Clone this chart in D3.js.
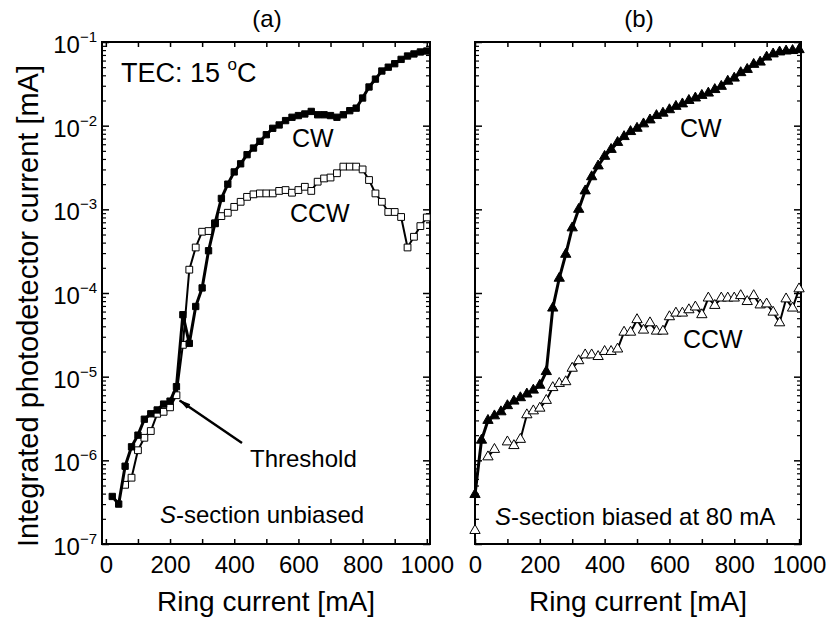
<!DOCTYPE html>
<html>
<head>
<meta charset="utf-8">
<script src="https://cdn.jsdelivr.net/npm/d3@7"></script>
<style>
  body { margin: 0; background: #fff; }
  svg { font-family: "Liberation Sans", Arial, sans-serif; }
</style>
</head>
<body>
<svg id="chart" width="834" height="621"></svg>
<script>
// ---- data (ring current in mA, photocurrent in mA) ----
var cwA_x = [20, 40, 60, 80, 100, 120, 140, 160, 180, 200, 220, 240, 260, 280, 300, 320, 340, 360, 380, 400,
             420, 440, 460, 480, 500, 520, 540, 560, 580, 600, 620, 640, 660, 680, 700, 720, 740, 760, 780, 800,
             820, 840, 860, 880, 900, 920, 940, 960, 980, 1000];
var cwA_y = [3.7e-7, 3.0e-7, 8.5e-7, 1.45e-6, 2.0e-6, 3.1e-6, 3.6e-6, 4.0e-6, 4.7e-6, 5.1e-6,
             7.6e-6, 5.5e-5, 2.5e-5, 6.9e-5, 1.15e-4, 3.2e-4, 6.8e-4, 1.35e-3, 2.0e-3, 2.8e-3,
             3.5e-3, 4.5e-3, 5.4e-3, 6.5e-3, 7.8e-3, 9.3e-3, 1.02e-2, 1.15e-2, 1.26e-2, 1.32e-2,
             1.38e-2, 1.48e-2, 1.35e-2, 1.35e-2, 1.32e-2, 1.26e-2, 1.35e-2, 1.51e-2, 1.62e-2, 2.14e-2,
             2.9e-2, 3.6e-2, 4.5e-2, 5.0e-2, 5.5e-2, 6.2e-2, 6.8e-2, 7.2e-2, 7.6e-2, 7.8e-2];

var ccwA_x = [60, 80, 100, 120, 140, 160, 180, 200, 220, 240, 260, 280, 300, 320, 340, 360, 380, 400,
              420, 440, 460, 480, 500, 520, 540, 560, 580, 600, 620, 640, 660, 680, 700, 720, 740, 760, 780, 800,
              820, 840, 860, 880, 900, 920, 940, 960, 980, 1000];
var ccwA_y = [5.1e-7, 6.2e-7, 1.32e-6, 1.86e-6, 2.24e-6, 3.6e-6, 3.8e-6, 4.3e-6, 6.0e-6, 2.4e-5,
              1.9e-4, 3.5e-4, 5.4e-4, 5.5e-4, 6.8e-4, 8.3e-4, 9.1e-4, 1.07e-3,
              1.23e-3, 1.41e-3, 1.51e-3, 1.55e-3, 1.55e-3, 1.55e-3, 1.66e-3, 1.70e-3, 1.58e-3, 1.70e-3,
              1.86e-3, 1.66e-3, 2.14e-3, 2.34e-3, 2.4e-3, 2.7e-3, 3.24e-3, 3.24e-3, 3.24e-3, 3.0e-3,
              2.24e-3, 1.55e-3, 1.23e-3, 9.3e-4, 9.3e-4, 8.1e-4, 3.5e-4, 4.7e-4, 6.3e-4, 8.0e-4];

var cwB_x = [0, 20, 40, 60, 80, 100, 120, 140, 160, 180, 200, 220, 240, 260, 280, 300, 320, 340, 360, 380, 400,
             420, 440, 460, 480, 500, 520, 540, 560, 580, 600, 620, 640, 660, 680, 700, 720, 740, 760, 780, 800,
             820, 840, 860, 880, 900, 920, 940, 960, 980, 1000];
var cwB_y = [3.9e-7, 1.74e-6, 3.0e-6, 3.4e-6, 3.8e-6, 4.5e-6, 5.1e-6, 5.6e-6, 6.2e-6, 6.9e-6, 7.9e-6,
             1.15e-5, 6.6e-5, 1.5e-4, 2.9e-4, 6.0e-4, 1.0e-3, 1.66e-3, 2.45e-3, 3.3e-3, 4.3e-3,
             5.2e-3, 6.3e-3, 7.4e-3, 8.5e-3, 9.3e-3, 1.05e-2, 1.17e-2, 1.32e-2, 1.41e-2, 1.55e-2,
             1.70e-2, 1.82e-2, 2.0e-2, 2.14e-2, 2.3e-2, 2.45e-2, 2.7e-2, 2.95e-2, 3.4e-2, 3.7e-2,
             4.3e-2, 4.7e-2, 5.4e-2, 5.75e-2, 6.6e-2, 7.2e-2, 7.6e-2, 7.8e-2, 7.9e-2, 8.1e-2];

// null = no measurement (gap in the trace)
var ccwB_x = [0, 20, 40, 60, 80, 100, 120, 140, 160, 180, 200, 220, 240, 260, 280, 300, 320, 340, 360, 380, 400,
              420, 440, 460, 480, 500, 520, 540, 560, 580, 600, 620, 640, 660, 680, 700, 720, 740, 760, 780, 800,
              820, 840, 860, 880, 900, 920, 940, 960, 980, 1000];
var ccwB_y = [1.45e-7, null, 1.1e-6, 1.35e-6, null, 1.66e-6, 1.5e-6, 1.78e-6, 3.5e-6, 3.9e-6, 4.2e-6,
              5.2e-6, 7.4e-6, 8.3e-6, 8.7e-6, 1.26e-5, 1.55e-5, 1.82e-5, 1.82e-5, 1.74e-5, 2.0e-5,
              2.0e-5, 2.14e-5, 3.4e-5, 3.4e-5, 4.8e-5, 3.6e-5, 4.4e-5, 3.5e-5, 3.5e-5, 5.2e-5,
              5.75e-5, 5.75e-5, 6.3e-5, 6.8e-5, 5.5e-5, 8.7e-5, 7.1e-5, 8.7e-5, 8.7e-5, 8.7e-5,
              9.3e-5, 7.9e-5, 9.3e-5, 7.2e-5, 7.4e-5, 5.9e-5, 4.4e-5, 8.5e-5, 6.6e-5, 1.12e-4];

var xTicks = [0, 100, 200, 300, 400, 500, 600, 700, 800, 900, 1000];
var decades = [-7, -6, -5, -4, -3, -2, -1];

var svg = d3.select("#chart");
var yTop = 42, yBottom = 544;

var zip = function (xs, ys) {
    return xs.map(function (d, i) { return { x: d, y: ys[i] }; });
};

var drawPanel = function (opts) {
    var x = d3.scaleLinear().domain(opts.domain).range([opts.left, opts.right]);
    var y = d3.scaleLog().domain([1e-7, 1e-1]).range([yBottom, yTop]);
    var g = svg.append("g");

    var minor = y.ticks().filter(function (d) {
        return Math.abs(Math.log10(d) - Math.round(Math.log10(d))) > 1e-6;
    });
    var major = decades.map(function (e) { return Math.pow(10, e); });

    // x ticks, bottom with labels, top without
    var bottom = g.append("g").attr("transform", "translate(0," + yBottom + ")")
        .call(d3.axisBottom(x).tickValues(xTicks).tickSize(-5).tickPadding(12)
            .tickFormat(function (d) { return d % 200 === 0 ? d : ""; }));
    bottom.select(".domain").remove();
    bottom.selectAll("text").attr("font-size", 24).attr("font-family", "Liberation Sans, Arial, sans-serif").attr("fill", "#000");
    bottom.selectAll("line").attr("stroke-width", 1.5);

    var top = g.append("g").attr("transform", "translate(0," + yTop + ")")
        .call(d3.axisTop(x).tickValues(xTicks).tickSize(-5).tickFormat(""));
    top.select(".domain").remove();
    top.selectAll("line").attr("stroke-width", 1.5);

    // y ticks on both sides, inward
    [[d3.axisLeft, opts.left], [d3.axisRight, opts.right]].forEach(function (s) {
        var gMaj = g.append("g").attr("transform", "translate(" + s[1] + ",0)")
            .call(s[0](y).tickValues(major).tickSize(-7).tickFormat(""));
        gMaj.select(".domain").remove();
        gMaj.selectAll("line").attr("stroke-width", 1.5);
        var gMin = g.append("g").attr("transform", "translate(" + s[1] + ",0)")
            .call(s[0](y).tickValues(minor).tickSize(-4).tickFormat(""));
        gMin.select(".domain").remove();
        gMin.selectAll("line").attr("stroke-width", 1.2);
    });

    // frame
    g.append("rect")
        .attr("x", opts.left).attr("y", yTop)
        .attr("width", opts.right - opts.left).attr("height", yBottom - yTop)
        .attr("fill", "none").attr("stroke", "#000").attr("stroke-width", 2);

    // curves
    var line = d3.line()
        .defined(function (d) { return d.y !== null; })
        .x(function (d) { return x(d.x); })
        .y(function (d) { return y(d.y); });

    opts.series.forEach(function (s) {
        var data = zip(s.xs, s.ys);
        g.append("path").datum(data)
            .attr("d", line)
            .attr("fill", "none").attr("stroke", "#000")
            .attr("stroke-width", s.lw).attr("stroke-linejoin", "round");
        g.selectAll(null).data(data.filter(function (d) { return d.y !== null; }))
            .enter().append("path")
            .attr("transform", function (d) { return "translate(" + x(d.x) + "," + y(d.y) + ")"; })
            .attr("d", d3.symbol().type(s.shape).size(s.size))
            .attr("fill", s.fill).attr("stroke", "#000").attr("stroke-width", 1);
    });

    // x axis title and panel tag
    g.append("text").attr("x", (opts.left + opts.right) / 2).attr("y", 611)
        .attr("text-anchor", "middle").attr("font-size", 28).text("Ring current [mA]");
    g.append("text").attr("x", (opts.left + opts.right) / 2 + 1).attr("y", 27)
        .attr("text-anchor", "middle").attr("font-size", 24).text(opts.tag);

    return { x: x, y: y, g: g };
};

var pa = drawPanel({
    left: 102, right: 430, domain: [-12, 1010], tag: "(a)",
    series: [
        { xs: ccwA_x, ys: ccwA_y, shape: d3.symbolSquare, size: 46, fill: "#fff", lw: 2 },
        { xs: cwA_x, ys: cwA_y, shape: d3.symbolSquare, size: 40, fill: "#000", lw: 3 }
    ]
});

var pb = drawPanel({
    left: 475, right: 801, domain: [0, 1006], tag: "(b)",
    series: [
        { xs: ccwB_x, ys: ccwB_y, shape: d3.symbolTriangle, size: 46, fill: "#fff", lw: 2 },
        { xs: cwB_x, ys: cwB_y, shape: d3.symbolTriangle, size: 46, fill: "#000", lw: 3 }
    ]
});

// y tick labels (panel a only)
decades.forEach(function (e) {
    var t = svg.append("text")
        .attr("x", 97).attr("y", pa.y(Math.pow(10, e)) + 11)
        .attr("text-anchor", "end").attr("font-size", 24);
    t.append("tspan").text("10");
    t.append("tspan").attr("font-size", 15).attr("dy", -11).text("\u2212" + (-e));
});

// y axis title
svg.append("text")
    .attr("transform", "translate(38,306) rotate(-90)")
    .attr("text-anchor", "middle").attr("font-size", 29)
    .text("Integrated photodetector current [mA]");

// annotations panel a
var tec = pa.g.append("text").attr("x", 121).attr("y", 82).attr("font-size", 27);
tec.append("tspan").text("TEC: 15 ");
tec.append("tspan").attr("font-size", 17).attr("dy", -12).text("o");
tec.append("tspan").attr("dy", 12).text("C");

pa.g.append("text").attr("x", 292).attr("y", 147).attr("font-size", 25).text("CW");
pa.g.append("text").attr("x", 290).attr("y", 222).attr("font-size", 25).text("CCW");
pa.g.append("text").attr("x", 250).attr("y", 467).attr("font-size", 24).text("Threshold");

var sa = pa.g.append("text").attr("x", 160).attr("y", 523).attr("font-size", 24);
sa.append("tspan").attr("font-style", "italic").text("S");
sa.append("tspan").text("-section unbiased");

// threshold arrow
svg.append("defs").append("marker")
    .attr("id", "arrow").attr("viewBox", "0 0 12 8").attr("refX", 11).attr("refY", 4)
    .attr("markerWidth", 12).attr("markerHeight", 8).attr("markerUnits", "userSpaceOnUse")
    .attr("orient", "auto")
    .append("path").attr("d", "M0,1 L12,4 L0,7 Z").attr("fill", "#000");
pa.g.append("line")
    .attr("x1", 242).attr("y1", 443)
    .attr("x2", pa.x(230)).attr("y2", pa.y(5.2e-6))
    .attr("stroke", "#000").attr("stroke-width", 2.5)
    .attr("marker-end", "url(#arrow)");

// annotations panel b
pb.g.append("text").attr("x", 680).attr("y", 137).attr("font-size", 25).text("CW");
pb.g.append("text").attr("x", 683).attr("y", 348).attr("font-size", 25).text("CCW");
var sb = pb.g.append("text").attr("x", 495).attr("y", 525).attr("font-size", 24);
sb.append("tspan").attr("font-style", "italic").text("S");
sb.append("tspan").text("-section biased at 80 mA");
</script>
</body>
</html>
